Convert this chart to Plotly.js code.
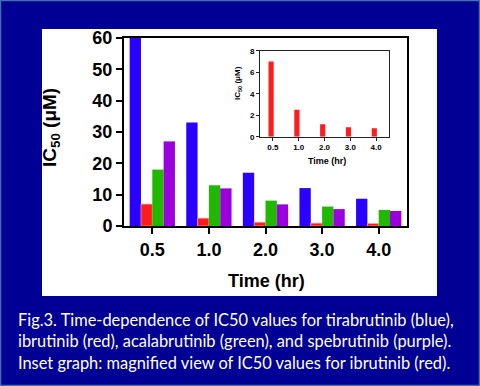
<!DOCTYPE html>
<html>
<head>
<meta charset="utf-8">
<script src="https://cdn.plot.ly/plotly-3.0.1.min.js"></script>
<style>html,body{margin:0;padding:0;background:#000094;}#chart{width:480px;height:386px;}</style>
</head>
<body>
<div id="chart"></div>
<script>
const times = ["0.5", "1.0", "2.0", "3.0", "4.0"];
const tirabrutinib = [60, 33, 17, 12.1, 8.7];
const ibrutinib = [7.0, 2.5, 1.2, 0.9, 0.8];
const acalabrutinib = [18, 13, 8.1, 6.2, 5.1];
const spebrutinib = [27, 12, 6.9, 5.4, 4.8];
const insetIbrutinib = [7.0, 2.5, 1.15, 0.88, 0.79];
const mainYTicks = [0, 10, 20, 30, 40, 50, 60];
const insetYTicks = [0, 2, 4, 6, 8];
const caption = "Fig.3. Time-dependence of IC50 values for tirabrutinib (blue),<br>ibrutinib (red), acalabrutinib (green), and spebrutinib (purple).<br>Inset graph: magnified view of IC50 values for ibrutinib (red).";

const W = 480, H = 386;
const px = x => x / W;
const py = y => 1 - y / H;

const colors = {blue: "#2a00ff", red: "#ff1c1c", green: "#20b800", purple: "#9a00dc"};

const traces = [
  {type: "bar", x: times, y: tirabrutinib, name: "tirabrutinib", marker: {color: colors.blue}, xaxis: "x", yaxis: "y"},
  {type: "bar", x: times, y: ibrutinib, name: "ibrutinib", marker: {color: colors.red, line: {color: "#ffb0b0", width: 0.6}}, xaxis: "x", yaxis: "y"},
  {type: "bar", x: times, y: acalabrutinib, name: "acalabrutinib", marker: {color: colors.green}, xaxis: "x", yaxis: "y"},
  {type: "bar", x: times, y: spebrutinib, name: "spebrutinib", marker: {color: colors.purple}, xaxis: "x", yaxis: "y"},
  {type: "bar", x: times, y: insetIbrutinib, name: "ibrutinib inset", marker: {color: colors.red}, width: 0.2, offset: -0.17, xaxis: "x2", yaxis: "y2"}
];

const boldArial = (size) => ({family: "Liberation Sans, Arial, sans-serif", size: size, color: "#000", weight: "bold"});

const layout = {
  width: W, height: H,
  margin: {l: 0, r: 0, t: 0, b: 0},
  paper_bgcolor: "#000094",
  plot_bgcolor: "#ffffff",
  showlegend: false,
  barmode: "group",
  bargap: 0.2,
  bargroupgap: 0,
  xaxis: {
    type: "category", domain: [px(124), px(407)],
    showline: true, linecolor: "#000", linewidth: 2, mirror: true,
    ticks: "outside", ticklen: 6, tickwidth: 2, tickcolor: "#000",
    tickfont: boldArial(18), showgrid: false, zeroline: false, fixedrange: true
  },
  yaxis: {
    domain: [py(226), py(38)], range: [0, 60],
    tickvals: mainYTicks,
    showline: true, linecolor: "#000", linewidth: 2, mirror: true,
    ticks: "outside", ticklen: 6, tickwidth: 2, tickcolor: "#000",
    tickfont: boldArial(18), showgrid: false, zeroline: false, fixedrange: true
  },
  xaxis2: {
    type: "category", domain: [px(260), px(389)], anchor: "y2",
    showline: true, linecolor: "#222", linewidth: 1, mirror: true,
    ticks: "outside", ticklen: 3, tickwidth: 1, tickcolor: "#222",
    tickfont: boldArial(8), showgrid: false, zeroline: false, fixedrange: true
  },
  yaxis2: {
    domain: [py(136.7), py(50.7)], anchor: "x2", range: [0, 8],
    tickvals: insetYTicks,
    showline: true, linecolor: "#222", linewidth: 1, mirror: true,
    ticks: "outside", ticklen: 3, tickwidth: 1, tickcolor: "#222",
    tickfont: boldArial(8), showgrid: false, zeroline: false, fixedrange: true
  },
  shapes: [
    {type: "rect", xref: "paper", yref: "paper", x0: px(42), x1: px(437), y0: py(296), y1: py(29),
     fillcolor: "#ffffff", line: {width: 0}, layer: "below"},
    {type: "rect", xref: "paper", yref: "paper", x0: px(0.5), x1: px(479.5), y0: py(385.5), y1: py(0.5),
     fillcolor: "rgba(0,0,0,0)", line: {color: "#3f6fb0", width: 1.5}, layer: "above"}
  ],
  annotations: [
    {xref: "paper", yref: "paper", x: px(51), y: py(128), text: "<b>IC<sub>50</sub> (μM)</b>", textangle: -90,
     showarrow: false, font: {family: "Liberation Sans, Arial, sans-serif", size: 19, color: "#000"}, xanchor: "center", yanchor: "middle"},
    {xref: "paper", yref: "paper", x: px(266), y: py(281), text: "<b>Time (hr)</b>",
     showarrow: false, font: {family: "Liberation Sans, Arial, sans-serif", size: 18, color: "#000"}, xanchor: "center", yanchor: "middle"},
    {xref: "paper", yref: "paper", x: px(238), y: py(83), text: "<b>IC<sub>50</sub> (μM)</b>", textangle: -90,
     showarrow: false, font: {family: "Liberation Sans, Arial, sans-serif", size: 8, color: "#000"}, xanchor: "center", yanchor: "middle"},
    {xref: "paper", yref: "paper", x: px(327), y: py(161), text: "<b>Time (hr)</b>",
     showarrow: false, font: {family: "Liberation Sans, Arial, sans-serif", size: 9, color: "#000"}, xanchor: "center", yanchor: "middle"},
    {xref: "paper", yref: "paper", x: px(16), y: py(341), text: caption, align: "left",
     showarrow: false, font: {family: "Lato, sans-serif", size: 16.4, color: "#ffffff"}, xanchor: "left", yanchor: "middle"}
  ]
};

Plotly.newPlot("chart", traces, layout, {displayModeBar: false, staticPlot: true});
</script>
</body>
</html>
